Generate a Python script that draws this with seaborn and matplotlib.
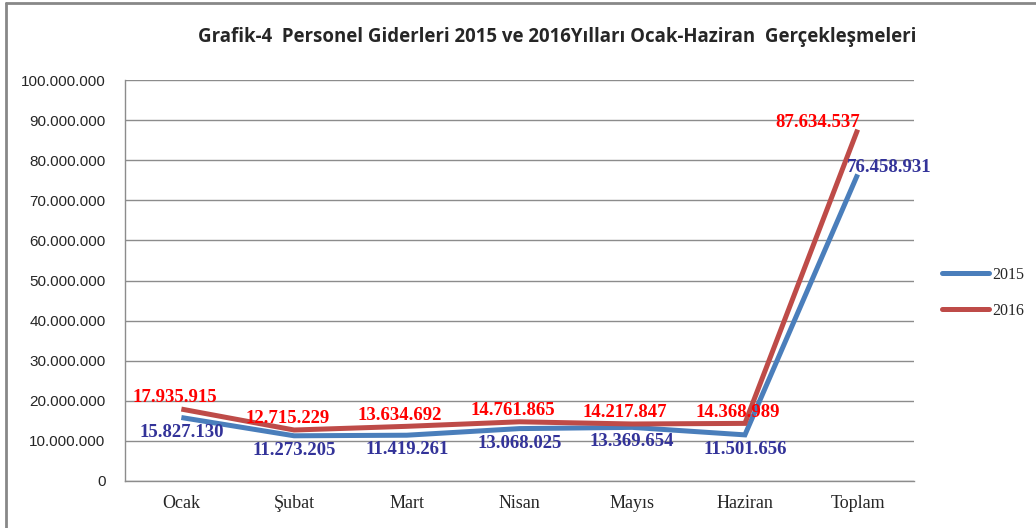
import matplotlib
matplotlib.use("Agg")
import matplotlib.pyplot as plt
from matplotlib.lines import Line2D
import matplotlib.ticker as mticker
import pandas as pd
import seaborn as sns

months = ["Ocak", "Şubat", "Mart", "Nisan", "Mayıs", "Haziran", "Toplam"]
values_2015 = [15827130, 11273205, 11419261, 13068025, 13369654, 11501656, 76458931]
values_2016 = [17935915, 12715229, 13634692, 14761865, 14217847, 14368989, 87634537]
years = ["2015", "2016"]
title = "Grafik-4  Personel Giderleri 2015 ve 2016Yılları Ocak-Haziran  Gerçekleşmeleri"

COLORS = {"2015": "#4A7EBB", "2016": "#BE4B48"}
LABEL_COLORS = {"2015": "#333399", "2016": "#FF0000"}


def fmt_tr(v):
    return f"{v:,.0f}".replace(",", ".")


def main():
    sns.set_style("white")
    df = pd.DataFrame({
        "ay": months * 2,
        "x": list(range(len(months))) * 2,
        "deger": values_2015 + values_2016,
        "yil": [years[0]] * len(months) + [years[1]] * len(months),
    })

    fig = plt.figure(figsize=(10.36, 5.28), dpi=100)
    ax = fig.add_axes([125 / 1036, 1 - 481 / 528, (914 - 125) / 1036, (481 - 80) / 528])

    sns.lineplot(data=df, x="x", y="deger", hue="yil", palette=COLORS,
                 linewidth=3.6, ax=ax, legend=False, sort=False)
    for ln in ax.lines:
        ln.set_solid_joinstyle("miter")
        ln.set_solid_capstyle("butt")

    ax.set_xlim(-0.5, len(months) - 0.5)
    ax.set_ylim(0, 100_000_000)
    ax.yaxis.set_major_locator(mticker.MultipleLocator(10_000_000))
    ax.yaxis.set_major_formatter(mticker.FuncFormatter(lambda v, p: fmt_tr(v)))
    ax.set_xticks(range(len(months)))
    ax.set_xticklabels(months, family="Liberation Serif", fontsize=13)
    for lab in ax.get_yticklabels():
        lab.set_family("Liberation Sans")
        lab.set_fontsize(11)
    ax.tick_params(axis="x", length=0, pad=10)
    ax.tick_params(axis="y", length=0, pad=14)
    ax.grid(axis="y", color="#8C8C8C", linewidth=1)
    ax.set_axisbelow(True)
    for s in ["top", "right"]:
        ax.spines[s].set_visible(False)
    for s in ["left", "bottom"]:
        ax.spines[s].set_color("#8C8C8C")
        ax.spines[s].set_linewidth(1)
    ax.set_xlabel("")
    ax.set_ylabel("")

    # data labels
    lab_kw = dict(family="Liberation Serif", fontweight="bold", fontsize=13.5, va="center")
    for i, v in enumerate(values_2016):
        if i == len(months) - 1:
            ax.annotate(fmt_tr(v), (i, v), xytext=(-29, 5), textcoords="offset points",
                        ha="center", color=LABEL_COLORS["2016"], **lab_kw)
        else:
            ax.annotate(fmt_tr(v), (i, v), xytext=(-5, 8), textcoords="offset points",
                        ha="center", color=LABEL_COLORS["2016"], **lab_kw)
    for i, v in enumerate(values_2015):
        if i == len(months) - 1:
            ax.annotate(fmt_tr(v), (i, v), xytext=(-8, 5), textcoords="offset points",
                        ha="left", color=LABEL_COLORS["2015"], **lab_kw)
        else:
            ax.annotate(fmt_tr(v), (i, v), xytext=(0, -10.5), textcoords="offset points",
                        ha="center", color=LABEL_COLORS["2015"], **lab_kw)

    handles = [Line2D([], [], color=COLORS[y], linewidth=3.6, solid_capstyle="round") for y in years]
    fig.legend(handles, years, loc="center left", bbox_to_anchor=(928 / 1036, 1 - 293 / 528),
               frameon=False, handlelength=2.9, handletextpad=0.2, labelspacing=1.25,
               prop={"family": "Liberation Serif", "size": 11.5})

    fig.text(557 / 1036, 1 - 37 / 528, title, ha="center", va="center",
             family="Open Sans", fontweight="bold", fontsize=13.4)

    # chart frame (left and top edges visible)
    fig.add_artist(Line2D([6 / 1036, 6 / 1036], [0, 1 - 3 / 528], transform=fig.transFigure,
                          color="#888888", linewidth=2))
    fig.add_artist(Line2D([6 / 1036, 1], [1 - 3 / 528, 1 - 3 / 528], transform=fig.transFigure,
                          color="#888888", linewidth=2))

    fig.savefig("out.png", dpi=100)
    plt.close(fig)


if __name__ == "__main__":
    main()
